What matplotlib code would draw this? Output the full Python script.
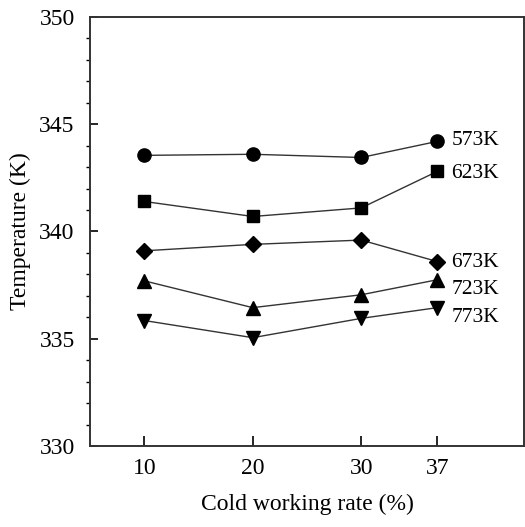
import matplotlib
matplotlib.use("Agg")
import matplotlib.pyplot as plt
from matplotlib.ticker import MultipleLocator

plt.rcParams['font.family'] = ['Liberation Serif', 'DejaVu Serif']

rate = [10, 20, 30, 37]
labels = ['573K', '623K', '673K', '723K', '773K']
markers = ['o', 's', 'D', '^', 'v']
temps = [
    [343.55, 343.6, 343.45, 344.2],
    [341.4, 340.7, 341.1, 342.8],
    [339.1, 339.4, 339.6, 338.6],
    [337.7, 336.45, 337.05, 337.75],
    [335.85, 335.05, 335.95, 336.45],
]
label_y = [344.25, 342.7, 338.55, 337.3, 336.0]
sizes = {'o': 9.5, 's': 8.5, 'D': 8, '^': 10.5, 'v': 10.5}

fig = plt.figure(figsize=(5.25, 5.27), dpi=100)
ax = fig.add_axes([90/525, 1 - 446/527, 434/525, 429/527])

for t, m, lab, ly in zip(temps, markers, labels, label_y):
    ax.plot(rate, t, color='#333333', lw=1.0, marker=m, ms=sizes[m],
            markerfacecolor='black', markeredgecolor='black')
    ax.text(rate[-1] + 1.3, ly, lab, fontsize=15.5, va='center', ha='left')

ax.set_xlim(5, 45)
ax.set_ylim(330, 350)
ax.set_xticks(rate)
ax.yaxis.set_major_locator(MultipleLocator(5))
ax.yaxis.set_minor_locator(MultipleLocator(1))
ax.tick_params(axis='both', direction='in', labelsize=17, width=1.2)
ax.tick_params(axis='x', length=7, top=False, pad=9)
ax.tick_params(axis='y', which='major', length=6, right=False, pad=11)
ax.tick_params(axis='y', which='minor', length=3, width=1.0, right=False)
for s in ax.spines.values():
    s.set_linewidth(1.4)
    s.set_color('#333333')

ax.set_xlabel('Cold working rate (%)', fontsize=17, labelpad=10)
ax.set_ylabel('Temperature (K)', fontsize=17, labelpad=6)

fig.savefig('out.png', dpi=100)
